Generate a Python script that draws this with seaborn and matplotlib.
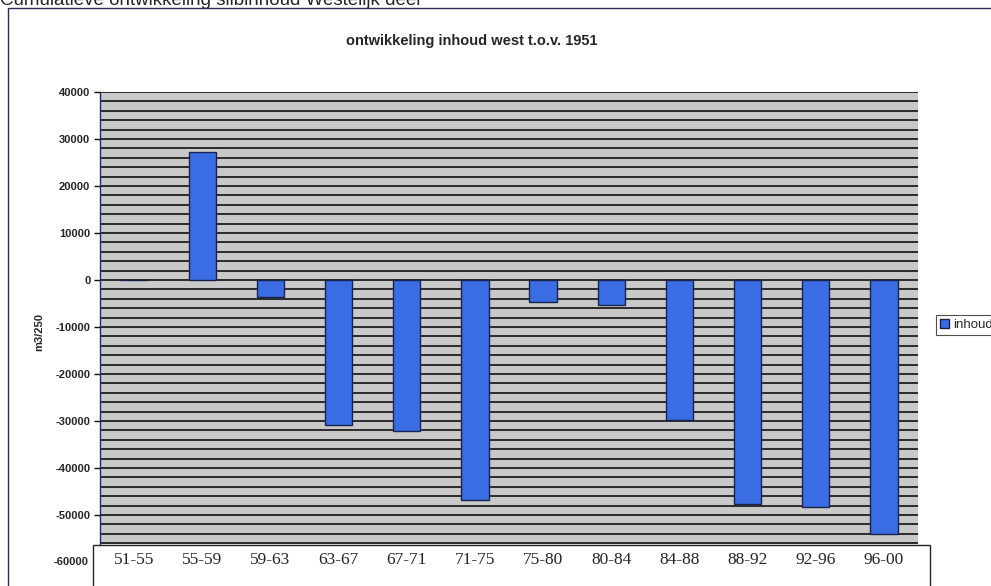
import matplotlib
matplotlib.use("Agg")
import matplotlib.pyplot as plt
import matplotlib.transforms as mtransforms
from matplotlib.patches import Rectangle
from matplotlib.ticker import MultipleLocator
import seaborn as sns
import pandas as pd

# data
periods = ["51-55", "55-59", "59-63", "63-67", "67-71", "71-75",
           "75-80", "80-84", "84-88", "88-92", "92-96", "96-00"]
inhoud = [0, 27200, -3600, -30800, -32200, -46800,
          -4600, -5300, -29800, -47700, -48300, -54000]

df = pd.DataFrame({"periode": periods, "inhoud": inhoud})

sns.set_style("white")
plt.rcParams["font.family"] = ["Liberation Sans", "DejaVu Sans"]
plt.rcParams["axes.unicode_minus"] = False

fig = plt.figure(figsize=(9.91, 5.86), dpi=100)
W, H = 991, 586

# plot area in pixel terms
left, right, top, bottom = 100, 918, 92, 545
ax = fig.add_axes([left / W, (H - bottom) / H, (right - left) / W, (bottom - top) / H])
ax.set_facecolor("#c9c9c9")

sns.barplot(data=df, x="periode", y="inhoud", color="#3a6de3",
            edgecolor="#18224a", linewidth=1.0, width=0.4,
            saturation=1, label="inhoud", ax=ax, zorder=3)

ax.set_ylim(-56400, 40000)
ax.yaxis.set_major_locator(MultipleLocator(10000))
ax.yaxis.set_minor_locator(MultipleLocator(2000))
ax.grid(True, which="both", axis="y", color="#111111", linewidth=1.2)
ax.set_axisbelow(True)

for s in ["top", "right", "bottom"]:
    ax.spines[s].set_visible(False)
ax.spines["left"].set_color("#1c2a70")
ax.spines["left"].set_linewidth(1.0)

ax.tick_params(axis="y", which="major", left=True, length=4, width=1,
               color="#111111", labelsize=8, pad=3)
ax.tick_params(axis="y", which="minor", left=False)
for lab in ax.get_yticklabels():
    lab.set_fontweight("bold")
ax.tick_params(axis="x", length=0, pad=5, labelsize=12.5)
for lab in ax.get_xticklabels():
    lab.set_family(["Liberation Serif", "DejaVu Serif"])

# extra lowest label below the visible plot area
trans = mtransforms.blended_transform_factory(ax.transAxes, ax.transData)
ax.text(-0.014, -60000, "-60000", transform=trans, ha="right", va="center",
        fontsize=8, fontweight="bold", clip_on=False)

ax.set_xlabel("")
ax.set_ylabel("m3/250", fontsize=8, fontweight="bold")
ax.yaxis.set_label_coords(-0.068, 0.47)

ax.set_title("ontwikkeling inhoud west t.o.v. 1951", fontsize=10.5,
             fontweight="bold", pad=34, x=0.455)

leg = ax.legend(loc="center left", bbox_to_anchor=(1.022, 0.486),
                fontsize=9.5, frameon=True, fancybox=False, edgecolor="#222222",
                handlelength=0.7, handleheight=0.7, handletextpad=0.3,
                borderpad=0.3, borderaxespad=0)
leg.get_frame().set_linewidth(0.8)

# white box under the category labels
fig.add_artist(Rectangle((93 / W, -0.02), (930 - 93) / W, (H - bottom) / H + 0.02,
                         transform=fig.transFigure, facecolor="white",
                         edgecolor="#222222", linewidth=1.0, zorder=-1))
# outer chart frame
fig.add_artist(Rectangle((8 / W, -0.02), 1.0, 1 - 8 / H + 0.02,
                         transform=fig.transFigure, fill=False,
                         edgecolor="#2a2a5a", linewidth=1.0, zorder=5))

fig.text(0.0, 1 - 5 / H, "Cumulatieve ontwikkeling slibinhoud Westelijk deel",
         fontsize=13.5, ha="left", va="baseline")

fig.savefig("out.png", dpi=100)
